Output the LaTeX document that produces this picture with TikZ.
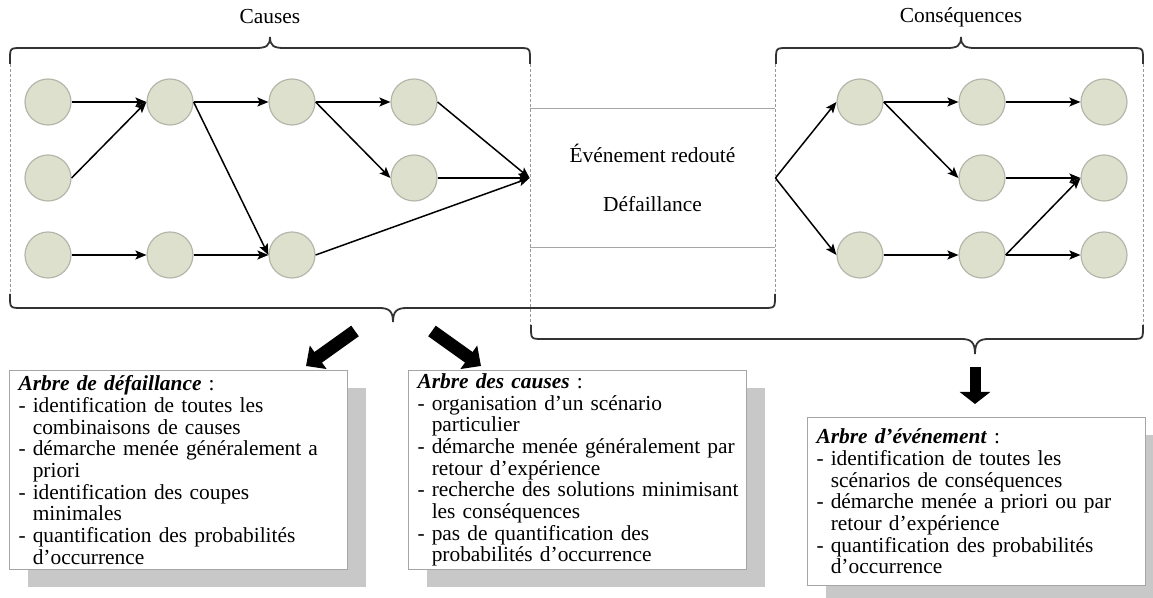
\documentclass[tikz,border=0pt]{standalone}
\usepackage{fontspec}
\setmainfont{Liberation Serif}
\usetikzlibrary{arrows.meta,shadows}
\definecolor{bubfill}{RGB}{222,224,206}
\definecolor{bubline}{RGB}{180,182,170}
\definecolor{cardline}{RGB}{165,165,165}
\definecolor{shade}{RGB}{200,200,200}
\newcommand{\ind}{\hphantom{-~}}
\newcommand{\ttl}[1]{\textbf{\textit{#1}}}

\begin{document}
\begin{tikzpicture}[x=0.5pt,y=-0.5pt,
  txt/.style={font=\fontsize{10.7}{10.85}\selectfont},
  bub/.style={circle,draw=bubline,fill=bubfill,minimum size=23pt,inner sep=0pt,line width=0.6pt},
  arr/.style={-{Stealth[length=5.5pt,width=4.5pt,inset=1.2pt]},line width=0.75pt},
  brc/.style={draw=black!80,line width=0.9pt},
  side/.style={draw=black!40,line width=0.5pt,dash pattern=on 1.5pt off 1pt},
  evl/.style={draw=black!35,line width=0.5pt},
  card/.style={txt,draw=cardline,fill=white,line width=0.5pt,anchor=north west,
    text width=160pt,inner xsep=4.5pt,inner ysep=1pt,align=left,
    minimum height=99.5pt,
    drop shadow={shadow xshift=9pt,shadow yshift=-9pt,fill=shade,opacity=1}},
  blk/.style={line width=6.5pt,-{Triangle[length=7.5pt,width=14pt]}}]
\useasboundingbox (0,0) rectangle (1153,598);

% causes
\node[bub] (c1a) at (48,102) {};
\node[bub] (c1b) at (48,178) {};
\node[bub] (c1c) at (48,255) {};
\node[bub] (c2a) at (170,102) {};
\node[bub] (c2c) at (170,255) {};
\node[bub] (c3a) at (292,102) {};
\node[bub] (c3c) at (292,255) {};
\node[bub] (c4a) at (414,102) {};
\node[bub] (c4b) at (414,178) {};

% evenement
\node[txt,minimum width=122.5pt,minimum height=69pt,align=center] (evt) at (652.5,178) {Événement redouté\\[14pt]Défaillance};
\draw[evl] (evt.north west) -- (evt.north east);
\draw[evl] (evt.south west) -- (evt.south east);

% consequences
\node[bub] (s1a) at (860,102) {};
\node[bub] (s1c) at (860,255) {};
\node[bub] (s2a) at (982,102) {};
\node[bub] (s2b) at (982,178) {};
\node[bub] (s2c) at (982,255) {};
\node[bub] (s3a) at (1104,102) {};
\node[bub] (s3b) at (1104,178) {};
\node[bub] (s3c) at (1104,255) {};

\draw[arr] (c1a.east) -- (c2a.west);
\draw[arr] (c1b.east) -- (c2a.west);
\draw[arr] (c1c.east) -- (c2c.west);
\draw[arr] (c2a.east) -- (c3a.west);
\draw[arr] (c2a.east) -- (c3c.west);
\draw[arr] (c2c.east) -- (c3c.west);
\draw[arr] (c3a.east) -- (c4a.west);
\draw[arr] (c3a.east) -- (c4b.west);
\draw[arr] (c4a.east) -- (evt.west);
\draw[arr] (c4b.east) -- (evt.west);
\draw[arr] (c3c.east) -- (evt.west);
\draw[arr] (evt.east) -- (s1a.west);
\draw[arr] (evt.east) -- (s1c.west);
\draw[arr] (s1a.east) -- (s2a.west);
\draw[arr] (s1a.east) -- (s2b.west);
\draw[arr] (s1c.east) -- (s2c.west);
\draw[arr] (s2a.east) -- (s3a.west);
\draw[arr] (s2b.east) -- (s3b.west);
\draw[arr] (s2c.east) -- (s3b.west);
\draw[arr] (s2c.east) -- (s3c.west);

% accolades
\node[txt] (lcau) at (270,17) {Causes};
\node[txt] (lcon) at (961,17) {Conséquences};
\draw[brc] (10,64) -- (10,60) .. controls (10,48) .. (22,48) -- (256,48)
  .. controls (266,48) and (270,46) .. (270,37) .. controls (270,46) and (274,48) .. (284,48)
  -- (518,48) .. controls (530,48) .. (530,60) -- (530,64);
\draw[brc] (776,64) -- (776,60) .. controls (776,48) .. (788,48) -- (947,48)
  .. controls (957,48) and (961,46) .. (961,37) .. controls (961,46) and (965,48) .. (975,48)
  -- (1131,48) .. controls (1143,48) .. (1143,60) -- (1143,64);
\draw[brc] (10,294) -- (10,296) .. controls (10,308) .. (22,308) -- (379,308)
  .. controls (389,308) and (393,311) .. (393,322) .. controls (393,311) and (397,308) .. (407,308)
  -- (763,308) .. controls (775,308) .. (775,296) -- (775,294);
\draw[brc] (531,325) -- (531,327) .. controls (531,339) .. (543,339) -- (961,339)
  .. controls (971,339) and (975,342) .. (975,354) .. controls (975,342) and (979,339) .. (989,339)
  -- (1131,339) .. controls (1143,339) .. (1143,327) -- (1143,325);
\draw[side] (10,64) -- (10,294);
\draw[side] (530,64) -- (530,325);
\draw[side] (775,64) -- (775,294);
\draw[side] (1143,64) -- (1143,325);

% fleches
\coordinate (bl0) at (355,331);
\coordinate (bl1) at (306,366);
\coordinate (br0) at (432,331);
\coordinate (br1) at (481,366);
\coordinate (bd0) at (975,367);
\coordinate (bd1) at (975,404);
\draw[blk] (bl0) -- (bl1);
\draw[blk] (br0) -- (br1);
\draw[blk,line width=5.5pt,-{Triangle[length=6pt,width=15pt]}] (bd0) -- (bd1);

% encadres
\node[card] (fta) at (9,370) {\ttl{Arbre de défaillance} :\\
- identification de toutes les\\
\ind combinaisons de causes\\
- démarche menée généralement a\\
\ind priori\\
- identification des coupes\\
\ind minimales\\
- quantification des probabilités\\
\ind d’occurrence};
\node[card] (adc) at (408,370) {\ttl{Arbre des causes} :\\
- organisation d’un scénario\\
\ind particulier\\
- démarche menée généralement par\\
\ind retour d’expérience\\
\mbox{- recherche des solutions minimisant}\\
\ind les conséquences\\
- pas de quantification des\\
\ind probabilités d’occurrence};
\node[card,minimum height=84pt] (ade) at (807,417) {\ttl{Arbre d’événement} :\\
- identification de toutes les\\
\ind scénarios de conséquences\\
- démarche menée a priori ou par\\
\ind retour d’expérience\\
- quantification des probabilités\\
\ind d’occurrence};
\end{tikzpicture}
\end{document}
